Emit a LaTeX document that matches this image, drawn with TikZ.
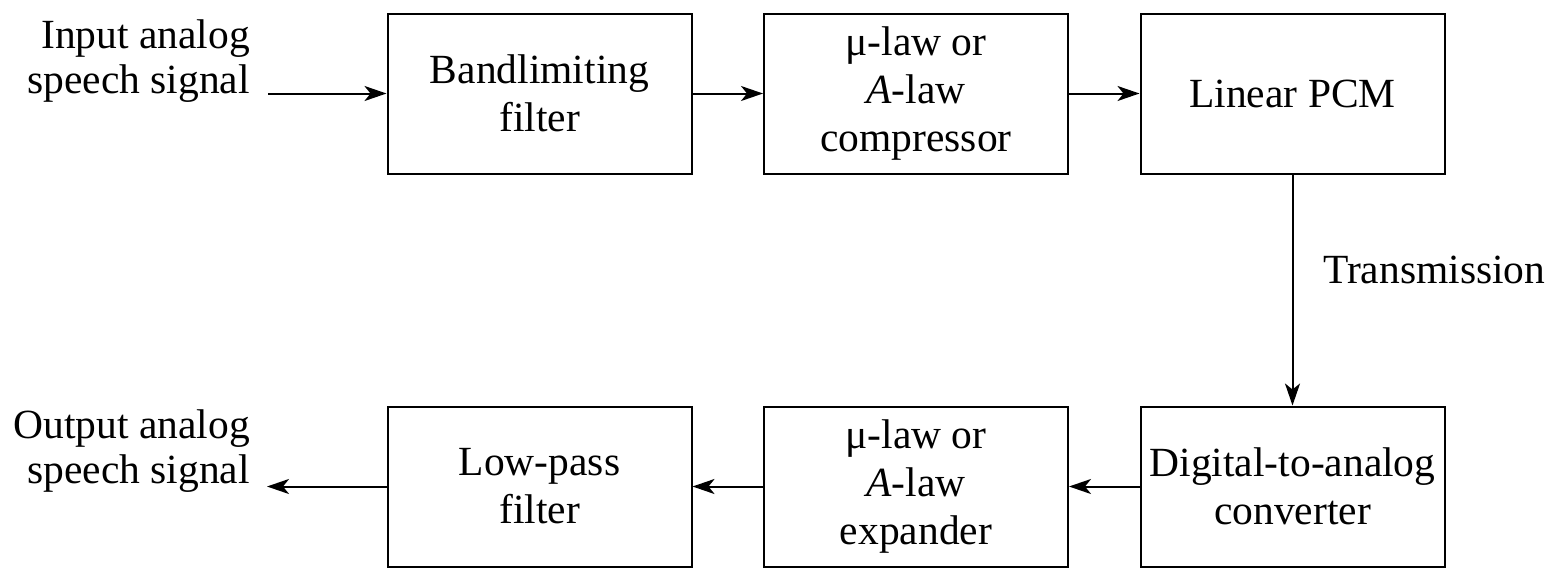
\documentclass[tikz,border=0pt]{standalone}
\usepackage{fontspec}
\setmainfont{LiberationSerif}[Extension=.ttf, UprightFont=*-Regular, ItalicFont=*-Italic, BoldFont=*-Bold]
\usetikzlibrary{arrows.meta}
\begin{document}
\begin{tikzpicture}[x=1pt,y=-1pt,
  blk/.style={draw, line width=2pt, minimum width=304pt, minimum height=160pt, align=center,
    font=\fontsize{41.5}{48}\selectfont, inner sep=0pt},
  lbl/.style={align=right, font=\fontsize{41.5}{45}\selectfont, inner sep=0pt},
  conn/.style={line width=2pt, -{Stealth[length=22pt,width=15pt,inset=6pt]}}]
\path[use as bounding box] (0,0) rectangle (1555,568);
\node[blk] (b1) at (539.5,93.5) {Bandlimiting\\filter};
\node[blk] (b2) at (916,93.5) {μ-law or\\\textit{A}-law\\compressor};
\node[blk] (b3) at (1292.5,93.5) {Linear PCM};
\node[blk] (b4) at (1292.5,486.5) {Digital-to-analog\\converter};
\node[blk] (b5) at (916,486.5) {μ-law or\\\textit{A}-law\\expander};
\node[blk] (b6) at (539.5,486.5) {Low-pass\\filter};
\node[lbl, anchor=east] (in) at (250,61) {Input analog\\speech signal};
\node[lbl, anchor=east] (out) at (250,451) {Output analog\\speech signal};
\node[font=\fontsize{41.5}{48}\selectfont, anchor=west, inner sep=0pt] (tx) at (1323,270) {Transmission};
\coordinate (inp) at (268,93.5);
\coordinate (outp) at (267,486.5);
\draw[conn] (inp) -- (b1.west);
\draw[conn] (b1) -- (b2);
\draw[conn] (b2) -- (b3);
\draw[conn] (b3) -- (b4);
\draw[conn] (b4) -- (b5);
\draw[conn] (b5) -- (b6);
\draw[conn] (b6.west) -- (outp);
\end{tikzpicture}
\end{document}
